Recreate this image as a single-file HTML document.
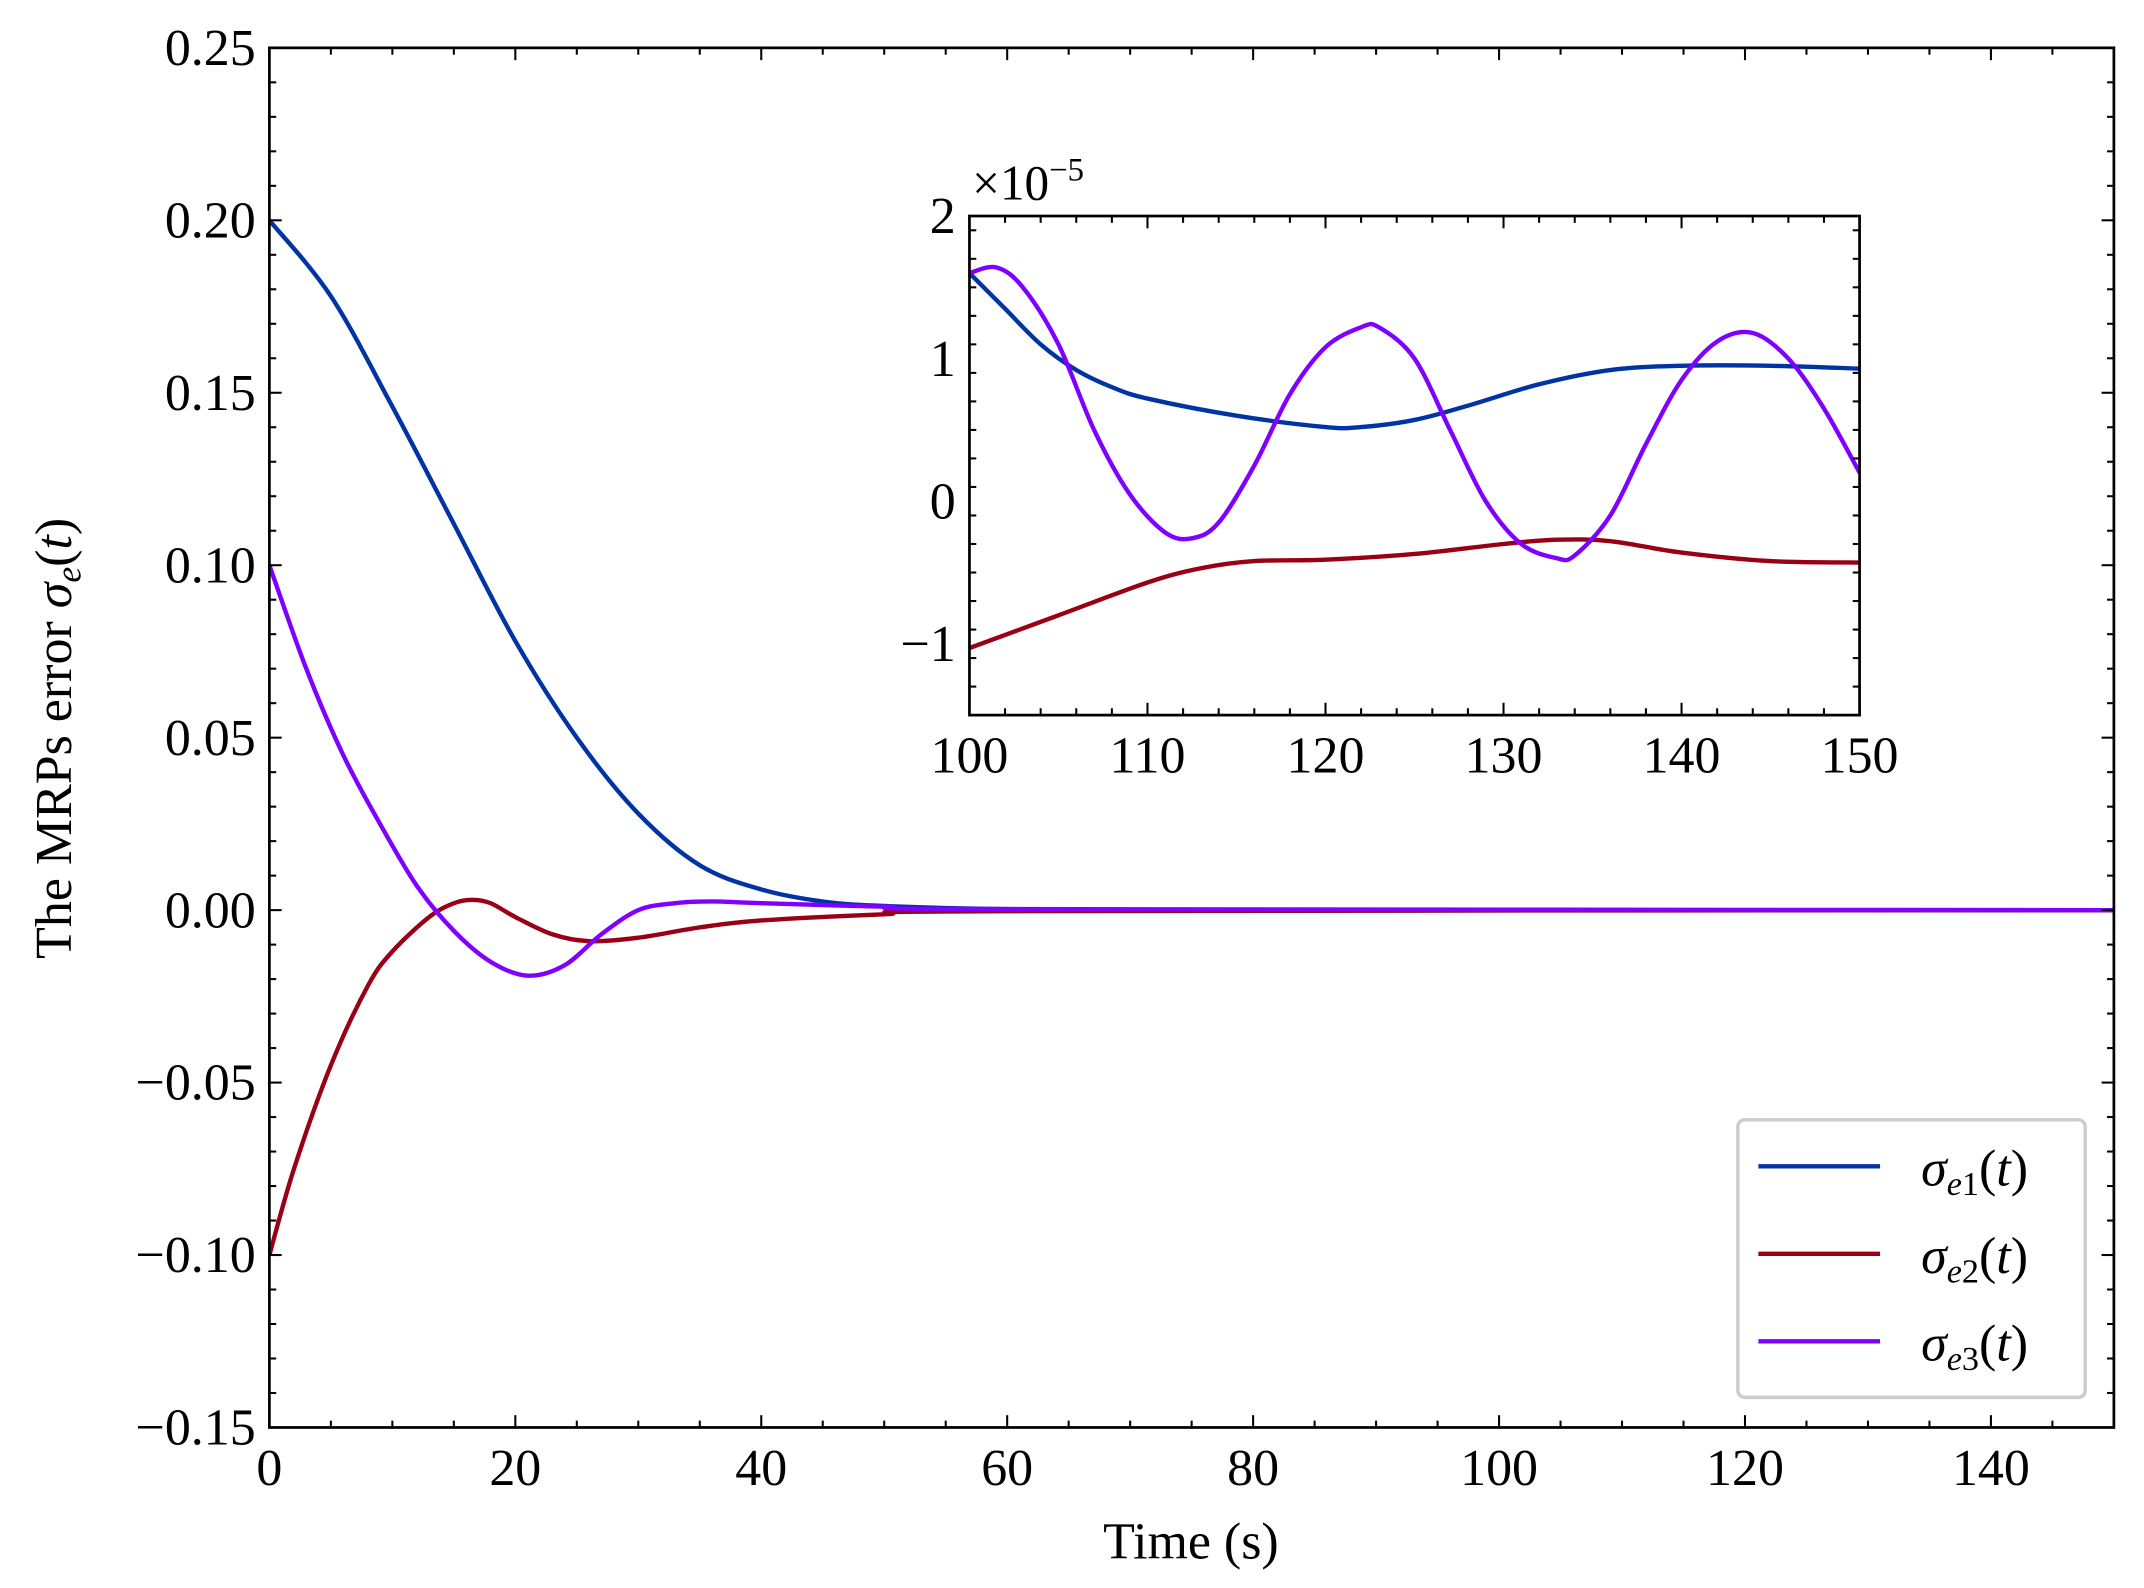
<!DOCTYPE html>
<html><head><meta charset="utf-8"><style>
html,body{margin:0;padding:0;background:#fff}
svg{display:block}
text{font-family:"Liberation Serif","DejaVu Serif",serif;fill:#000}
</style></head><body>
<svg id="chart" width="2144" height="1588" viewBox="0 0 1568 1161.4" xmlns="http://www.w3.org/2000/svg">
<g id="main"></g>
<g id="inset"></g>
<text transform="translate(52,540) rotate(-90)" text-anchor="middle" font-size="38">The MRPs error <tspan font-style="italic">σ</tspan><tspan font-style="italic" font-size="26" dy="7">e</tspan><tspan dy="-7">(</tspan><tspan font-style="italic">t</tspan>)</text>
<text x="871" y="1140" text-anchor="middle" font-size="38">Time (s)</text>
<text x="711" y="146" font-size="36">×10<tspan font-size="24" dy="-14">−5</tspan></text>
<g>
<rect x="1271" y="819" width="254" height="203" rx="5" fill="#fff" stroke="#ccc" stroke-width="2.5"/>
<line x1="1286" x2="1375" y1="853" y2="853" stroke="#0033a3" stroke-width="3.2"/>
<text x="1405" y="867" font-size="38"><tspan font-style="italic">σ</tspan><tspan font-size="25" dy="7"><tspan font-style="italic">e</tspan>1</tspan><tspan dy="-7">(</tspan><tspan font-style="italic">t</tspan>)</text>
<line x1="1286" x2="1375" y1="917" y2="917" stroke="#990016" stroke-width="3.2"/>
<text x="1405" y="931" font-size="38"><tspan font-style="italic">σ</tspan><tspan font-size="25" dy="7"><tspan font-style="italic">e</tspan>2</tspan><tspan dy="-7">(</tspan><tspan font-style="italic">t</tspan>)</text>
<line x1="1286" x2="1375" y1="981" y2="981" stroke="#8000ff" stroke-width="3.2"/>
<text x="1405" y="995" font-size="38"><tspan font-style="italic">σ</tspan><tspan font-size="25" dy="7"><tspan font-style="italic">e</tspan>3</tspan><tspan dy="-7">(</tspan><tspan font-style="italic">t</tspan>)</text>
</g>
</svg>
<script>
// main chart data
const mainT1 = [0,5,10,15,20,25,30,35,40,45,50,60,80,150];
const mainS1 = [0.2,0.178,0.146,0.112,0.078,0.05,0.028,0.013,0.006,0.0025,0.0012,0.0003,0,0];
const mainT2 = [0,2,5,8,10,13,15,16.5,18,20,23,26,30,35,40,50,60,150];
const mainS2 = [-0.1,-0.075,-0.045,-0.022,-0.012,-0.002,0.002,0.003,0.002,-0.002,-0.007,-0.009,-0.008,-0.005,-0.003,-0.0012,-0.0003,0];
const mainT3 = [0,3,6,9,12,15,18,21,24,27,30,33,36,40,50,60,150];
const mainS3 = [0.1,0.07,0.045,0.025,0.007,-0.006,-0.015,-0.019,-0.016,-0.007,0.0,0.002,0.0025,0.002,0.001,0.0003,0];
const mainXTicks = [0,20,40,60,80,100,120,140];
const mainYTicks = [-0.15,-0.10,-0.05,0.00,0.05,0.10,0.15,0.20,0.25];
const mainYLabels = ["−0.15","−0.10","−0.05","0.00","0.05","0.10","0.15","0.20","0.25"];
// inset data (units of 1e-5)
const insT1 = [100,102,104,106,108,110,115,120,122,125,128,132,136,140,145,150];
const insS1 = [1.6,1.35,1.1,0.92,0.8,0.72,0.6,0.52,0.52,0.57,0.67,0.82,0.92,0.95,0.95,0.93];
const insT2 = [100,105,110,113,116,120,125,130,133,136,140,145,150];
const insS2 = [-1.03,-0.8,-0.57,-0.47,-0.42,-0.41,-0.37,-0.3,-0.27,-0.28,-0.36,-0.42,-0.43];
const insT3 = [100,101.5,103,105,107,109,111,112.5,114,116,118,120,122,123,125,127,129,131,133,134,136,138,140,142,144,146,148,150];
const insS3 = [1.6,1.64,1.5,1.1,0.5,0.05,-0.22,-0.26,-0.15,0.25,0.75,1.08,1.22,1.22,1.0,0.5,0.0,-0.3,-0.4,-0.38,-0.1,0.4,0.85,1.12,1.18,1.0,0.65,0.2];
const insXTicks = [100,110,120,130,140,150];
const insYTicks = [-1,0,1,2];
const insYLabels = ["−1","0","1","2"];

const NS = "http://www.w3.org/2000/svg";
function mk(parent, tag, attrs){const e=document.createElementNS(NS,tag);for(const k in attrs)e.setAttribute(k,attrs[k]);parent.appendChild(e);return e;}
function smoothPath(pts){
  let d="M"+pts[0][0].toFixed(2)+","+pts[0][1].toFixed(2);
  for(let i=0;i<pts.length-1;i++){
    const p0=pts[Math.max(0,i-1)],p1=pts[i],p2=pts[i+1],p3=pts[Math.min(pts.length-1,i+2)];
    const c1=[p1[0]+(p2[0]-p0[0])/6,p1[1]+(p2[1]-p0[1])/6];
    const c2=[p2[0]-(p3[0]-p1[0])/6,p2[1]-(p3[1]-p1[1])/6];
    d+=" C"+c1[0].toFixed(2)+","+c1[1].toFixed(2)+" "+c2[0].toFixed(2)+","+c2[1].toFixed(2)+" "+p2[0].toFixed(2)+","+p2[1].toFixed(2);
  }
  return d;
}
function axes(g, box, xdom, ydom, xt, xl, yt, yl, xminor, yminor, fs, prefix, series){
  const X=v=>box.l+(v-xdom[0])/(xdom[1]-xdom[0])*(box.r-box.l);
  const Y=v=>box.b-(v-ydom[0])/(ydom[1]-ydom[0])*(box.b-box.t);
  const clip = mk(g,"clipPath",{id:prefix+"clip"});
  mk(clip,"rect",{x:box.l,y:box.t,width:box.r-box.l,height:box.b-box.t});
  if(prefix==="ins"){
    const bg = mk(g,"rect",{x:box.l,y:box.t,width:box.r-box.l,height:box.b-box.t,fill:"#fff"});
    
    
  }
  const sg = mk(g,"g",{"clip-path":"url(#"+prefix+"clip)"});
  series.forEach(s=>{
    const p = mk(sg,"path",{d:smoothPath(s.t.map((t,i)=>[X(t),Y(s.v[i])])),fill:"none",stroke:s.c,"stroke-width":3.2,"stroke-linejoin":"round"});
    
    
  });
  const tk = mk(g,"g",{stroke:"#000","stroke-width":1.5});
  
  
  for(let v=xdom[0]; v<=xdom[1]+1e-9; v+=xminor){
    const major = xt.some(t=>Math.abs(t-v)<1e-9); const L=major?9:5; const x=X(v);
    mk(tk,"line",{x1:x,x2:x,y1:box.b,y2:box.b-L}); mk(tk,"line",{x1:x,x2:x,y1:box.t,y2:box.t+L});
  }
  for(let v=ydom[0]; v<=ydom[1]+1e-9; v+=yminor){
    const major = yt.some(t=>Math.abs(t-v)<1e-9); const L=major?9:5; const y=Y(v);
    mk(tk,"line",{x1:box.l,x2:box.l+L,y1:y,y2:y}); mk(tk,"line",{x1:box.r,x2:box.r-L,y1:y,y2:y});
  }
  const fr = mk(g,"rect",{x:box.l,y:box.t,width:box.r-box.l,height:box.b-box.t,fill:"none",stroke:"#000","stroke-width":2});
  
  
  xt.forEach((v,i)=>{
    const t = mk(g,"text",{x:X(v),y:box.b+fs+4,"text-anchor":"middle","font-size":fs});
    t.textContent = xl[i];
    
    
  });
  yt.forEach((v,i)=>{
    const t = mk(g,"text",{x:box.l-10,y:Y(v)+fs*0.33,"text-anchor":"end","font-size":fs});
    t.textContent = yl[i];
    
    
  });
}
axes(document.getElementById("main"),{l:197,r:1546,t:35,b:1044},[0,150],[-0.15,0.25],
  mainXTicks,mainXTicks.map(String),mainYTicks,mainYLabels,5,0.01,38,"main",
  [{t:mainT1,v:mainS1,c:"#0033a3",name:"line-sigma-e1"},{t:mainT2,v:mainS2,c:"#990016",name:"line-sigma-e2"},{t:mainT3,v:mainS3,c:"#8000ff",name:"line-sigma-e3"}]);
axes(document.getElementById("inset"),{l:709,r:1360,t:158,b:523},[100,150],[-1.5,2],
  insXTicks,insXTicks.map(String),insYTicks,insYLabels,2,0.2,38,"ins",
  [{t:insT1,v:insS1,c:"#0033a3",name:"inset-line-sigma-e1"},{t:insT2,v:insS2,c:"#990016",name:"inset-line-sigma-e2"},{t:insT3,v:insS3,c:"#8000ff",name:"inset-line-sigma-e3"}]);
</script>
</body></html>
